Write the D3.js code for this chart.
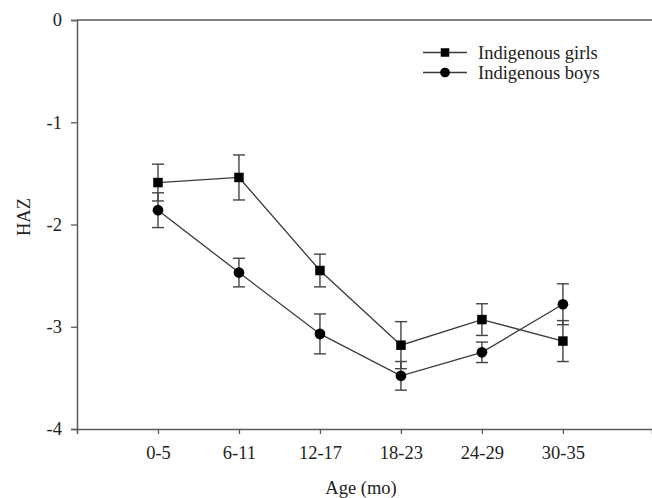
<!DOCTYPE html>
<html><head><meta charset="utf-8">
<script src="https://cdn.jsdelivr.net/npm/d3@7"></script>
<style>html,body{margin:0;padding:0;background:#fff;}svg{display:block;}</style>
</head><body>
<svg id="chart" width="652" height="498"></svg>
<script>
const categories = ["0-5", "6-11", "12-17", "18-23", "24-29", "30-35"];
const girlsMean = [-1.59, -1.54, -2.45, -3.18, -2.93, -3.14];
const girlsErr  = [0.18, 0.22, 0.16, 0.23, 0.155, 0.20];
const boysMean  = [-1.86, -2.47, -3.07, -3.48, -3.25, -2.78];
const boysErr   = [0.17, 0.14, 0.195, 0.14, 0.10, 0.20];
const yTicks = [0, -1, -2, -3, -4];
const seriesNames = ["Indigenous girls", "Indigenous boys"];

const svg = d3.select("#chart");
const font = "'Liberation Serif','Times New Roman',serif";
const axisColor = "#5a5a5a";
const lineColor = "#3a3a3a";
const fs = 18.5;

const x = d3.scaleLinear().domain([0, 7.1]).range([77, 652]);
const y = d3.scaleLinear().domain([-4, 0]).range([429, 20]);

// frame
svg.append("line").attr("x1", 77).attr("x2", 652).attr("y1", y(0)).attr("y2", y(0))
  .attr("stroke", axisColor).attr("stroke-width", 1.5);

// y axis
const yAxis = d3.axisLeft(y).tickValues(yTicks).tickFormat((d) => String(d)).tickSize(6).tickPadding(9);
const gy = svg.append("g").attr("transform", "translate(77,0)").call(yAxis);
gy.select(".domain").attr("stroke", axisColor).attr("stroke-width", 1.5);
gy.selectAll(".tick line").attr("stroke", axisColor).attr("stroke-width", 1.3);
gy.selectAll(".tick text").attr("font-family", font).attr("font-size", fs).attr("fill", "#222");

// x axis
const xAxis = d3.axisBottom(x).tickValues(d3.range(1, categories.length + 1))
  .tickFormat((d) => categories[d - 1]).tickSize(5).tickPadding(12);
const gx = svg.append("g").attr("transform", `translate(0,${y(-4)})`).call(xAxis);
gx.select(".domain").attr("stroke", axisColor).attr("stroke-width", 1.5);
gx.selectAll(".tick line").attr("stroke", axisColor).attr("stroke-width", 1.3);
gx.selectAll(".tick text").attr("font-family", font).attr("font-size", fs).attr("fill", "#222");

// axis titles
svg.append("text").attr("x", 361).attr("y", 494).attr("text-anchor", "middle")
  .attr("font-family", font).attr("font-size", fs).attr("fill", "#222").text("Age (mo)");
svg.append("text").attr("transform", "translate(30,217) rotate(-90)").attr("text-anchor", "middle")
  .attr("font-family", font).attr("font-size", fs).attr("fill", "#222").text("HAZ");

const series = [
  { name: seriesNames[0], mean: girlsMean, err: girlsErr, shape: "square" },
  { name: seriesNames[1], mean: boysMean, err: boysErr, shape: "circle" }
];

const line = d3.line().x((d, i) => x(i + 1)).y((d) => y(d));

// error bars
series.forEach((s) => {
  const g = svg.append("g");
  s.mean.forEach((m, i) => {
    const cx = x(i + 1);
    const top = y(m + s.err[i]), bot = y(m - s.err[i]);
    g.append("line").attr("x1", cx).attr("x2", cx).attr("y1", top).attr("y2", bot)
      .attr("stroke", "#444").attr("stroke-width", 1.4);
    [top, bot].forEach((yy) => g.append("line").attr("x1", cx - 6).attr("x2", cx + 6)
      .attr("y1", yy).attr("y2", yy).attr("stroke", "#444").attr("stroke-width", 1.4));
  });
});

// lines
series.forEach((s) => {
  svg.append("path").attr("d", line(s.mean)).attr("fill", "none")
    .attr("stroke", lineColor).attr("stroke-width", 1.3);
});

function marker(g, shape, cx, cy, size) {
  if (shape === "square") {
    g.append("rect").attr("x", cx - size / 2).attr("y", cy - size / 2)
      .attr("width", size).attr("height", size).attr("fill", "#000");
  } else {
    g.append("circle").attr("cx", cx).attr("cy", cy).attr("r", size / 2 + 0.6).attr("fill", "#000");
  }
}

series.forEach((s) => {
  const g = svg.append("g");
  s.mean.forEach((m, i) => marker(g, s.shape, x(i + 1), y(m), 9.5));
});

// legend
series.forEach((s, i) => {
  const ly = 52.5 + i * 20;
  const g = svg.append("g");
  g.append("line").attr("x1", 423).attr("x2", 467).attr("y1", ly).attr("y2", ly)
    .attr("stroke", lineColor).attr("stroke-width", 1.3);
  marker(g, s.shape, 445, ly, 8.5);
  g.append("text").attr("x", 478).attr("y", ly + 6).attr("font-family", font)
    .attr("font-size", fs).attr("fill", "#222").text(s.name);
});
</script>
</body></html>
